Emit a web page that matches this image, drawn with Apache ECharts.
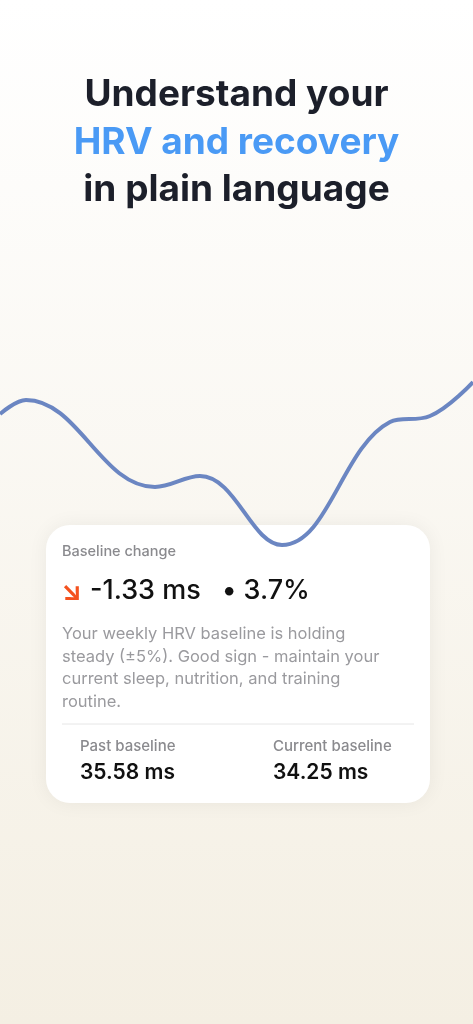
<!DOCTYPE html>
<html><head><meta charset="utf-8">
<script src="https://cdn.jsdelivr.net/npm/echarts@6/dist/echarts.min.js"></script>
<style>html,body{margin:0;padding:0;}#c{width:473px;height:1024px;}</style>
</head><body><div id="c"></div>
<script>
const dayPos = [0,26,155,200,282,390,430,473];
const hrvValues = [136,150,63,74,5,128,134,168];
const titleLines = ["Understand your","HRV and recovery","in plain language"];
const cardTexts = {
  label:"Baseline change", change:"-1.33 ms", pct:"• 3.7%",
  body:"Your weekly HRV baseline is holding\nsteady (±5%). Good sign - maintain your\ncurrent sleep, nutrition, and training\nroutine.",
  pastLabel:"Past baseline", pastVal:"35.58 ms", curLabel:"Current baseline", curVal:"34.25 ms"
};
const F = "Inter, 'Noto Sans', sans-serif";
const chart = echarts.init(document.getElementById('c'));
chart.setOption({
  backgroundColor: new echarts.graphic.LinearGradient(0,0,0,1,[{offset:0,color:'#ffffff'},{offset:1,color:'#f4efe3'}]),
  animation:false,
  grid:{left:0,right:0,top:382,height:168},
  xAxis:{type:'value',min:0,max:473,show:false},
  yAxis:{type:'value',min:0,max:168,show:false},
  series:[{type:'line',data:dayPos.map((x,i)=>[x,hrvValues[i]]),smooth:0.4,symbol:'none',
    lineStyle:{color:'#6b86c2',width:4},z:1}],
  graphic:[
    {type:'text',left:'center',top:76,style:{text:titleLines[0],font:'bold 37px '+F,fill:'#1c1f2a'}},
    {type:'text',left:'center',top:124,style:{text:titleLines[1],font:'bold 37px '+F,fill:'#4a9af5'}},
    {type:'text',left:'center',top:171,style:{text:titleLines[2],font:'bold 37px '+F,fill:'#1c1f2a'}},
    {type:'group',left:46,top:525,z:10,children:[
      {type:'rect',shape:{x:0,y:0,width:384,height:278,r:24},style:{fill:'#fff',shadowBlur:20,shadowColor:'rgba(0,0,0,0.06)'}},
      {type:'text',x:16,y:19,style:{text:cardTexts.label,font:'500 14.5px '+F,fill:'#8a8a8e'}},
      {type:'text',x:15,y:53,style:{text:'↘',font:'bold 27px '+F,fill:'#f4511e'}},
      {type:'text',x:44,y:52,style:{text:cardTexts.change,font:'500 27px '+F,fill:'#111'}},
      {type:'text',x:176,y:52,style:{text:cardTexts.pct,font:'500 27px '+F,fill:'#111'}},
      {type:'text',x:16,y:98,style:{text:cardTexts.body,font:'16.5px '+F,fill:'#9a9a9e',lineHeight:22.5}},
      {type:'line',shape:{x1:16,y1:199,x2:368,y2:199},style:{stroke:'#e6e6e6',lineWidth:1}},
      {type:'text',x:34,y:214,style:{text:cardTexts.pastLabel,font:'500 15px '+F,fill:'#8a8a8e'}},
      {type:'text',x:34,y:237,style:{text:cardTexts.pastVal,font:'600 21px '+F,fill:'#111'}},
      {type:'text',x:227,y:214,style:{text:cardTexts.curLabel,font:'500 15px '+F,fill:'#8a8a8e'}},
      {type:'text',x:227,y:237,style:{text:cardTexts.curVal,font:'600 21px '+F,fill:'#111'}}
    ]}
  ]
});
</script></body></html>
